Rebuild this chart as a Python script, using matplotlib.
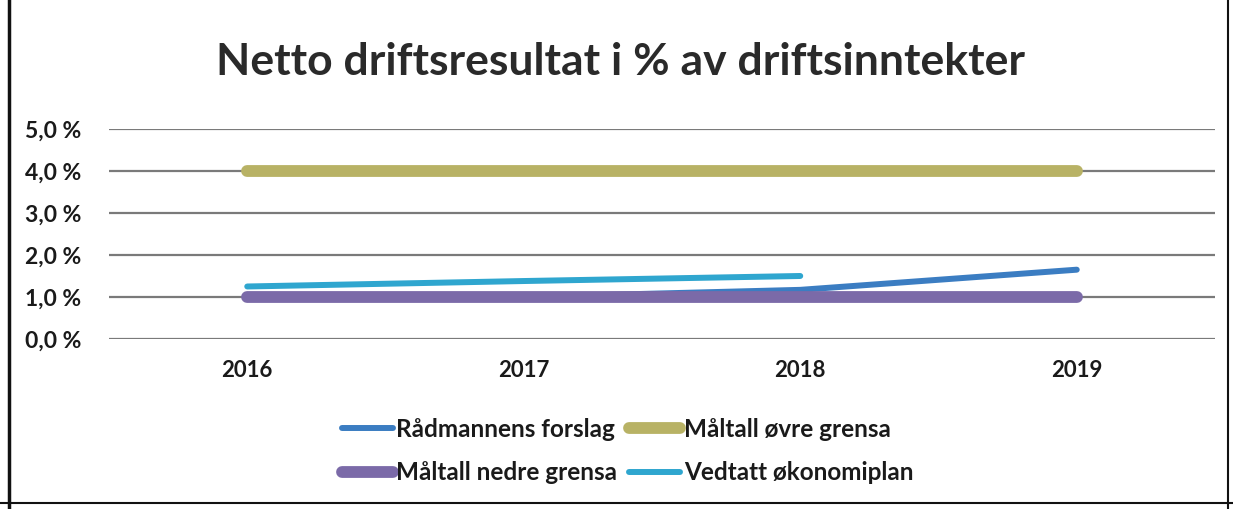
import matplotlib.pyplot as plt
from matplotlib.lines import Line2D

years = ['2016', '2017', '2018', '2019']
radmannens_forslag = [1.0, 1.0, 1.17, 1.65]
maltall_ovre = [4.0, 4.0, 4.0, 4.0]
maltall_nedre = [1.0, 1.0, 1.0, 1.0]
vedtatt_okonomiplan = [1.25, 1.38, 1.5]

plt.rcParams['font.family'] = ['Lato', 'DejaVu Sans']

fig = plt.figure(figsize=(12.33, 5.09), dpi=100)
ax = fig.add_axes([0.0884, 0.334, 0.897, 0.4126])

x = list(range(len(years)))
l1, = ax.plot(x, radmannens_forslag, color='#3b7dc2', lw=4.3,
              solid_capstyle='round', label='Rådmannens forslag')
l2, = ax.plot(x, maltall_ovre, color='#b8b265', lw=8.5,
              solid_capstyle='round', label='Måltall øvre grensa')
l3, = ax.plot(x, maltall_nedre, color='#7b6aa8', lw=8.5,
              solid_capstyle='round', label='Måltall nedre grensa')
l4, = ax.plot(x[:len(vedtatt_okonomiplan)], vedtatt_okonomiplan,
              color='#2fa6cf', lw=4.3, solid_capstyle='round',
              label='Vedtatt økonomiplan')

ax.set_xlim(-0.5, 3.5)
ax.set_ylim(0, 5)
ax.set_yticks([0, 1, 2, 3, 4, 5])
ax.set_yticklabels(['0,0 %', '1,0 %', '2,0 %', '3,0 %', '4,0 %', '5,0 %'],
                   fontsize=16.5)
ax.set_xticks(x)
ax.set_xticklabels(years, fontsize=16)
ax.tick_params(axis='both', length=0, colors='#1a1a1a')
ax.tick_params(axis='x', pad=15)
ax.tick_params(axis='y', pad=20)
for lab in ax.get_xticklabels() + ax.get_yticklabels():
    lab.set_fontweight('bold')
ax.yaxis.grid(True, color='#7a7a7a', lw=1.6)
ax.set_axisbelow(True)
for s in ax.spines.values():
    s.set_visible(False)

fig.text(0.503, 0.878, 'Netto driftsresultat i % av driftsinntekter',
         ha='center', va='center', fontsize=32, fontweight='bold',
         color='#2a2a2a')

handles = [Line2D([], [], color=l1.get_color(), lw=4.3, solid_capstyle='round'),
           Line2D([], [], color=l3.get_color(), lw=8.5, solid_capstyle='round'),
           Line2D([], [], color=l2.get_color(), lw=8.5, solid_capstyle='round'),
           Line2D([], [], color=l4.get_color(), lw=4.3, solid_capstyle='round')]
labels = ['Rådmannens forslag', 'Måltall nedre grensa',
          'Måltall øvre grensa', 'Vedtatt økonomiplan']
leg = fig.legend(handles, labels, ncol=2, loc='center',
                 bbox_to_anchor=(0.509, 0.114), frameon=False,
                 prop={'size': 17.5, 'weight': 'bold'},
                 handlelength=2.1, handletextpad=0.15, columnspacing=0.5,
                 labelspacing=0.85)
for t in leg.get_texts():
    t.set_color('#1a1a1a')

# scanned frame edges
fig.add_artist(Line2D([0.007, 0.007], [0.0, 1.0], color='#111111', lw=2.5))
fig.add_artist(Line2D([0.996, 0.996], [0.0, 1.0], color='#111111', lw=1.5))
fig.add_artist(Line2D([0.0, 1.0], [0.012, 0.012], color='#111111', lw=1.5))

fig.savefig('out.png', dpi=100)
